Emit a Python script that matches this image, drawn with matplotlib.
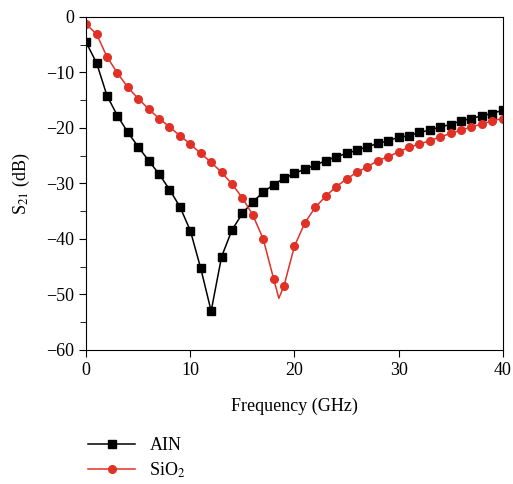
import numpy as np
import matplotlib
matplotlib.use('Agg')
import matplotlib.pyplot as plt
from matplotlib.ticker import MultipleLocator

plt.rcParams['font.family'] = ['Liberation Serif', 'DejaVu Serif']
plt.rcParams['mathtext.fontset'] = 'stix'

# frequency in GHz, S21 in dB
aln_freq = list(range(0, 41))
aln_s21 = [-4.6, -8.3, -14.2, -17.8, -20.8, -23.4, -25.9, -28.3, -31.1, -34.2,
           -38.5, -45.3, -53.0, -43.2, -38.4, -35.4, -33.3, -31.6, -30.2, -29.1,
           -28.2, -27.4, -26.7, -25.9, -25.2, -24.6, -24.0, -23.4, -22.8, -22.3,
           -21.7, -21.4, -20.8, -20.4, -19.8, -19.4, -18.7, -18.3, -17.8, -17.4,
           -16.8]

sio2_freq = list(range(0, 19)) + [18.5] + list(range(19, 41))
sio2_s21 = [-1.3, -3.1, -7.2, -10.1, -12.7, -14.7, -16.6, -18.3, -19.8, -21.4,
            -22.9, -24.6, -26.2, -28.0, -30.1, -32.6, -35.7, -40.0, -47.2, -50.7,
            -48.4, -41.3, -37.1, -34.3, -32.3, -30.6, -29.2, -28.0, -27.0, -25.9,
            -25.2, -24.3, -23.5, -22.9, -22.3, -21.6, -21.0, -20.4, -19.8, -19.3,
            -18.7, -18.3]
sio2_marks = [i for i, f in enumerate(sio2_freq) if f != 18.5]

yticks = list(range(-60, 1, 10))
ytick_labels = ['\u221260', '\u221250', '\u221240', '\u221230', '\u221220', '\u221210', '0']

fig = plt.figure(figsize=(5.13, 4.84), dpi=100)
ax = fig.add_axes([0.168, 0.277, 0.812, 0.688])

ax.plot(aln_freq, aln_s21, color='black', lw=1.1, marker='s', ms=6,
        label='AIN')
ax.plot(sio2_freq, sio2_s21, color='#e03127', lw=1.1, marker='o', ms=5.5,
        markevery=sio2_marks, label='SiO$_2$')

ax.set_xlim(0, 40)
ax.set_ylim(-60, 0)
ax.xaxis.set_major_locator(MultipleLocator(10))
ax.set_yticks(yticks)
ax.set_yticklabels(ytick_labels)
ax.yaxis.set_minor_locator(MultipleLocator(5))
ax.tick_params(axis='both', which='both', direction='out', labelsize=13,
               top=False, right=False)
ax.tick_params(which='major', length=5)
ax.tick_params(which='minor', length=4)
ax.set_xlabel('Frequency (GHz)', fontsize=13, labelpad=14)
ax.set_ylabel('S$_{21}$ (dB)', fontsize=13, labelpad=10)

fig.legend(loc='upper left', bbox_to_anchor=(0.14, 0.13), frameon=False,
           fontsize=13, handlelength=2.6, labelspacing=0.35)

fig.savefig('out.png', dpi=100)
